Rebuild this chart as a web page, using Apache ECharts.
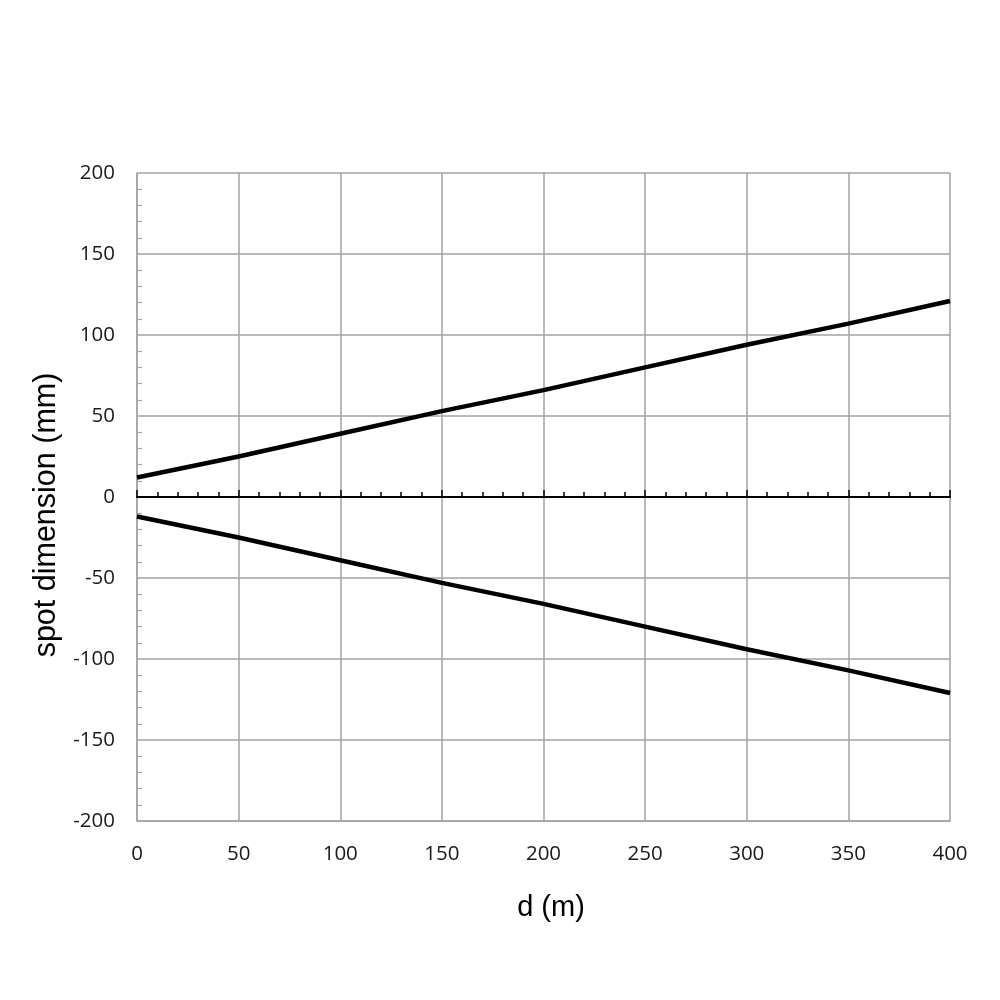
<!DOCTYPE html>
<html>
<head>
<meta charset="utf-8">
<script src="https://cdn.jsdelivr.net/npm/echarts@6/dist/echarts.min.js"></script>
<style>
  html, body { margin: 0; padding: 0; background: #fff; }
  #chart { width: 1000px; height: 1000px; }
</style>
</head>
<body>
<div id="chart"></div>
<script>
// distance along the beam (m)
const distances = [0, 50, 100, 150, 200, 250, 300, 350, 400];
// upper and lower edge of the spot (mm)
const upperEdge = [12, 25, 39, 53, 66, 80, 94, 107, 121];
const lowerEdge = [-12, -25, -39, -53, -66, -80, -94, -107, -121];

const xTitle = 'd (m)';
const yTitle = 'spot dimension (mm)';

const chart = echarts.init(document.getElementById('chart'));

const gridGray = '#a3a3a3';
const labelFont = { fontFamily: 'Open Sans', fontSize: 20.5, color: '#1a1a1a' };

const option = {
  backgroundColor: '#fff',
  animation: false,
  grid: { left: 137, right: 50, top: 173, bottom: 179, containLabel: false },
  xAxis: [
    {
      type: 'value',
      min: 0,
      max: 400,
      interval: 50,
      position: 'bottom',
      axisLine: { onZero: false, lineStyle: { color: gridGray, width: 1.5 } },
      axisTick: { show: false },
      axisLabel: Object.assign({ margin: 23 }, labelFont),
      splitLine: { show: true, lineStyle: { color: gridGray, width: 1.5 } }
    },
    {
      // zero line with its tick marks
      type: 'value',
      min: 0,
      max: 400,
      interval: 50,
      position: 'bottom',
      axisLine: { onZero: true, lineStyle: { color: '#000', width: 2 } },
      axisTick: { show: true, inside: true, length: 7, lineStyle: { color: '#000', width: 1.5 } },
      minorTick: { show: true, splitNumber: 5, length: 5, lineStyle: { color: '#000', width: 1.5 } },
      axisLabel: { show: false },
      splitLine: { show: false }
    }
  ],
  yAxis: {
    type: 'value',
    min: -200,
    max: 200,
    interval: 50,
    axisLine: { show: true, lineStyle: { color: gridGray, width: 1.5 } },
    axisTick: { show: false, inside: true },
    minorTick: { show: true, splitNumber: 5, length: 5, lineStyle: { color: gridGray, width: 1.2 } },
    axisLabel: Object.assign({ margin: 22 }, labelFont),
    splitLine: { show: true, lineStyle: { color: gridGray, width: 1.5 } }
  },
  graphic: [
    {
      type: 'text',
      x: 47,
      y: 515,
      rotation: Math.PI / 2,
      style: {
        text: yTitle,
        font: '30.5px "Liberation Sans", Arial, sans-serif',
        fill: '#000',
        align: 'center',
        verticalAlign: 'middle'
      }
    },
    {
      type: 'text',
      x: 551,
      y: 908,
      style: {
        text: xTitle,
        font: '29px "Liberation Sans", Arial, sans-serif',
        fill: '#000',
        align: 'center',
        verticalAlign: 'middle'
      }
    }
  ],
  series: [
    {
      type: 'line',
      xAxisIndex: 0,
      data: distances.map((d, i) => [d, upperEdge[i]]),
      symbol: 'none',
      lineStyle: { color: '#000', width: 4.5 },
      z: 5
    },
    {
      type: 'line',
      xAxisIndex: 0,
      data: distances.map((d, i) => [d, lowerEdge[i]]),
      symbol: 'none',
      lineStyle: { color: '#000', width: 4.5 },
      z: 5
    }
  ]
};

chart.setOption(option);
</script>
</body>
</html>
